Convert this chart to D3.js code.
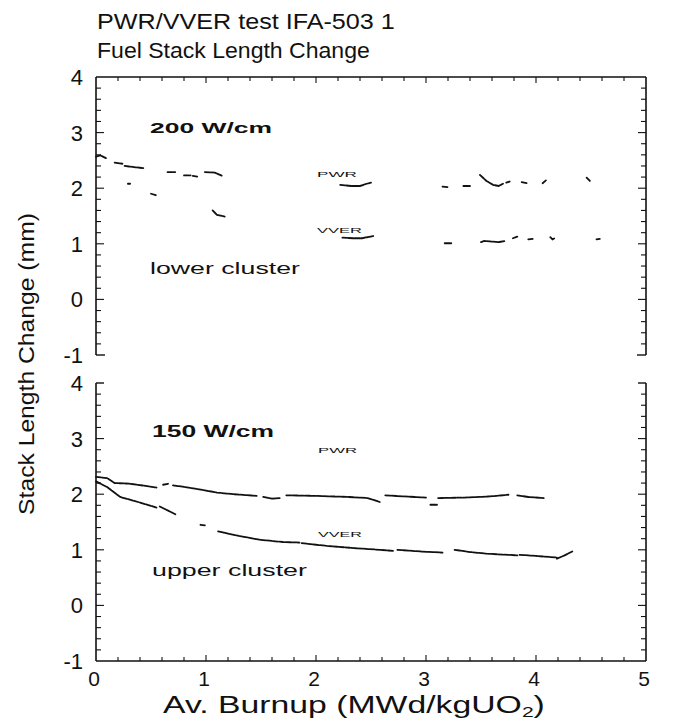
<!DOCTYPE html>
<html><head><meta charset="utf-8">
<script src="https://cdn.jsdelivr.net/npm/d3@7"></script>
<style>body{margin:0;background:#fff}svg{display:block}</style>
</head><body>
<script>
// ---------- data ----------
const titleLines = ["PWR/VVER test IFA-503 1", "Fuel Stack Length Change"];
const xTicks = [0, 1, 2, 3, 4, 5];
const yTicks = [-1, 0, 1, 2, 3, 4];
// 200 W/cm (lower cluster) - short segments of data
const pwr200 = [
  [[0.00,2.57],[0.04,2.59],[0.09,2.54]],
  [[0.17,2.46],[0.24,2.44]],
  [[0.26,2.40],[0.30,2.39],[0.43,2.36]],
  [[0.29,2.08],[0.31,2.08]],
  [[0.50,1.90],[0.55,1.87]],
  [[0.65,2.29],[0.72,2.29]],
  [[0.80,2.23],[0.86,2.23]],[[0.88,2.22],[0.92,2.21]],
  [[0.99,2.29],[1.08,2.28],[1.15,2.22]],
  [[1.06,1.60],[1.10,1.52],[1.17,1.49]],
  [[2.22,2.06],[2.32,2.04],[2.40,2.04],[2.46,2.08],[2.50,2.10]],
  [[3.15,2.03],[3.20,2.02]],
  [[3.34,2.04],[3.40,2.04]],
  [[3.49,2.24],[3.55,2.13],[3.61,2.06],[3.66,2.04],[3.70,2.08]],
  [[3.73,2.10],[3.76,2.12]],
  [[3.87,2.11],[3.92,2.09]],
  [[4.06,2.09],[4.09,2.14]],
  [[4.46,2.19],[4.49,2.13]]
];
const vver200 = [
  [[2.24,1.11],[2.34,1.10],[2.42,1.10],[2.47,1.12],[2.52,1.14]],
  [[3.17,1.01],[3.23,1.01]],
  [[3.50,1.03],[3.53,1.05],[3.60,1.04],[3.66,1.03],[3.72,1.05]],
  [[3.79,1.10],[3.83,1.13]],
  [[3.93,1.08],[3.97,1.09]],
  [[4.13,1.12],[4.15,1.08],[4.17,1.10]],
  [[4.55,1.08],[4.58,1.09]]
];
// 150 W/cm (upper cluster)
const pwr150 = [
  [[0.00,2.31],[0.10,2.29],[0.17,2.20],[0.30,2.19],[0.45,2.15],[0.55,2.12]],
  [[0.61,2.17],[0.66,2.19]],
  [[0.70,2.16],[0.90,2.10],[1.10,2.03],[1.25,2.00],[1.46,1.97]],
  [[1.52,1.95],[1.60,1.92],[1.67,1.93]],
  [[1.73,1.98],[2.00,1.97],[2.30,1.95],[2.47,1.93],[2.55,1.88],[2.58,1.86]],
  [[2.63,1.98],[2.80,1.96],[3.00,1.94]],
  [[3.04,1.81],[3.10,1.81]],
  [[3.11,1.93],[3.35,1.94],[3.58,1.96],[3.75,1.99]],
  [[3.83,1.98],[3.93,1.95],[4.07,1.93]]
];
const vver150 = [
  [[0.00,2.23],[0.10,2.13],[0.22,1.95],[0.40,1.85],[0.55,1.76]],
  [[0.58,1.78],[0.66,1.70],[0.73,1.63]],
  [[0.95,1.45],[0.99,1.44]],
  [[1.11,1.33],[1.30,1.25],[1.49,1.18],[1.70,1.14],[1.85,1.13]],
  [[1.87,1.12],[2.10,1.07],[2.35,1.03],[2.58,1.00],[2.70,0.98]],
  [[2.74,1.00],[2.95,0.97],[3.15,0.95]],
  [[3.26,1.00],[3.40,0.96],[3.55,0.93],[3.83,0.90]],
  [[3.85,0.91],[4.00,0.89],[4.19,0.86]],
  [[4.19,0.84],[4.26,0.90],[4.33,0.97]]
];
const panelLabels = ["200 W/cm", "150 W/cm"];
const clusterLabels = ["lower cluster", "upper cluster"];
const seriesNames = ["PWR", "VVER"];

// ---------- layout ----------
const W = 691, H = 720;
const svg = d3.select("body").append("svg").attr("width", W).attr("height", H)
  .style("font-family", "'Liberation Sans', Arial, sans-serif");

const x = d3.scaleLinear().domain([0, 5]).range([96, 646]);
const yTop = d3.scaleLinear().domain([-1, 4]).range([355, 77]);
const yBot = d3.scaleLinear().domain([-1, 4]).range([661, 383]);

// text stretched horizontally to a target width (the reference face is wide)
function wideText(str, px, py, size, targetW, opts = {}) {
  const t = svg.append("text").attr("font-size", size).attr("fill", "#111")
    .attr("font-weight", opts.bold ? "bold" : null)
    .attr("text-anchor", opts.anchor || "start");
  if (opts.build) opts.build(t); else t.text(str);
  const len = t.node().getComputedTextLength();
  const sx = targetW / len;
  t.attr("transform", `translate(${px},${py})${opts.rotate ? " rotate(" + opts.rotate + ")" : ""} scale(${sx},1)`);
  return t;
}

wideText(titleLines[0], 97, 29, 22, 298);
wideText(titleLines[1], 97, 58, 22, 273);

function drawFrame(y, isTop) {
  const g = svg.append("g").attr("stroke", "#111").attr("fill", "none");
  const x0 = x(0), x1 = x(5), yT = y(4), yB = y(-1);
  g.append("line").attr("x1", x0).attr("x2", x0).attr("y1", yT).attr("y2", yB).attr("stroke-width", 1.6);
  g.append("line").attr("x1", x1).attr("x2", x1).attr("y1", yT).attr("y2", yB).attr("stroke-width", 1.6);
  if (isTop) {
    g.append("line").attr("x1", x0).attr("x2", x1).attr("y1", yT).attr("y2", yT).attr("stroke-width", 1.6);
    g.append("line").attr("x1", x0).attr("x2", x0 + 9).attr("y1", yB).attr("y2", yB).attr("stroke-width", 1.4);
    g.append("line").attr("x1", x1 - 9).attr("x2", x1).attr("y1", yB).attr("y2", yB).attr("stroke-width", 1.4);
  } else {
    g.append("line").attr("x1", x0).attr("x2", x1).attr("y1", yB).attr("y2", yB).attr("stroke-width", 1.6);
    g.append("line").attr("x1", x0).attr("x2", x0 + 8).attr("y1", yT).attr("y2", yT).attr("stroke-width", 1.4);
    g.append("line").attr("x1", x1 - 8).attr("x2", x1).attr("y1", yT).attr("y2", yT).attr("stroke-width", 1.4);
  }
  const yMinor = d3.range(-1, 4.0001, 0.2).map(v => +v.toFixed(1)).filter(v => v > -1 && v < 4);
  yMinor.forEach(v => {
    const major = Math.abs(v - Math.round(v)) < 1e-6;
    const len = major ? 8 : 5;
    g.append("line").attr("x1", x0).attr("x2", x0 + len).attr("y1", y(v)).attr("y2", y(v)).attr("stroke-width", 1.1);
    g.append("line").attr("x1", x1).attr("x2", x1 - len).attr("y1", y(v)).attr("y2", y(v)).attr("stroke-width", 1.1);
  });
  const xMinor = d3.range(0, 5.0001, 0.2).map(v => +v.toFixed(1)).filter(v => v > 0 && v < 5);
  const yEdge = isTop ? yT : yB, dir = isTop ? 1 : -1;
  xMinor.forEach(v => {
    const major = Math.abs(v - Math.round(v)) < 1e-6;
    const len = major ? 6 : 4;
    g.append("line").attr("x1", x(v)).attr("x2", x(v)).attr("y1", yEdge).attr("y2", yEdge + dir * len).attr("stroke-width", 1.1);
  });
  svg.append("g").selectAll("text").data(yTicks).join("text")
    .attr("x", 83).attr("y", d => y(d) + 8).attr("text-anchor", "end")
    .attr("font-size", 22).attr("fill", "#111").text(d => d);
}
drawFrame(yTop, true);
drawFrame(yBot, false);

// x tick labels
svg.append("g").selectAll("text").data(xTicks).join("text")
  .attr("x", d => x(d) - 2).attr("y", 686).attr("text-anchor", "middle")
  .attr("font-size", 21).attr("fill", "#111").text(d => d);

// axis titles
wideText(null, 163, 713, 24, 382, {
  build: t => {
    t.append("tspan").text("Av. Burnup (MWd/kgUO");
    t.append("tspan").attr("font-size", 15).attr("dy", 4).text("2");
    t.append("tspan").attr("dy", -4).text(")");
  }
});
wideText("Stack Length Change (mm)", 34, 364, 22, 302, { anchor: "middle", rotate: -90 });

// data
const line = (y) => d3.line().x(d => x(d[0])).y(d => y(d[1]));
function drawSeries(segs, y) {
  svg.append("g").selectAll("path").data(segs).join("path")
    .attr("d", line(y)).attr("fill", "none").attr("stroke", "#111")
    .attr("stroke-width", 1.8).attr("stroke-dasharray", "5,1.2").attr("stroke-linecap", "round");
}
drawSeries(pwr200, yTop);
drawSeries(vver200, yTop);
drawSeries(pwr150, yBot);
drawSeries(vver150, yBot);

// annotations
wideText(panelLabels[0], 150, 133, 15, 122, { bold: true });
wideText(panelLabels[1], 152, 437, 16, 122, { bold: true });
wideText(clusterLabels[0], 150, 274, 16, 150);
wideText(clusterLabels[1], 152, 576, 17, 155);
wideText(seriesNames[0], 317, 177, 7.5, 40);
wideText(seriesNames[1], 317, 233, 7.5, 45);
wideText(seriesNames[0], 318, 453, 7.5, 39);
wideText(seriesNames[1], 318, 537, 7.5, 44);
</script>
</body></html>
